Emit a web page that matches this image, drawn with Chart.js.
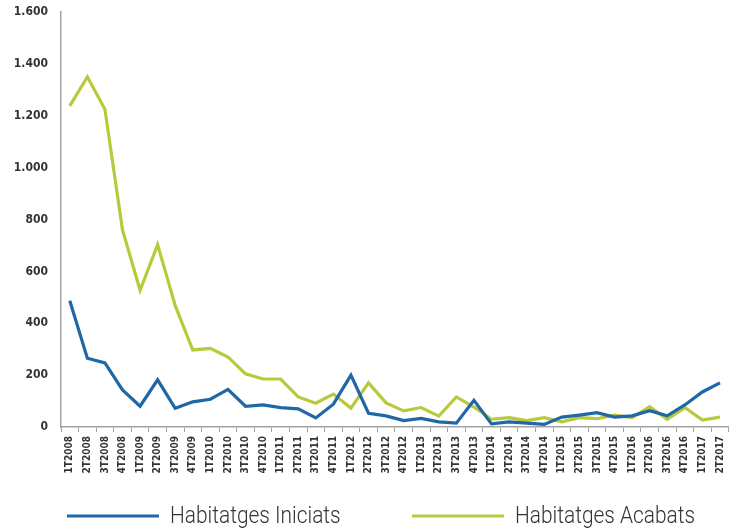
<!DOCTYPE html>
<html>
<head>
<meta charset="utf-8">
<title>Habitatges iniciats i acabats</title>
<script src="https://cdn.jsdelivr.net/npm/chart.js@4"></script>
<style>
  body { margin: 0; background: #fff; }
  canvas { display: block; }
</style>
</head>
<body>
<canvas id="chart" width="736" height="529"></canvas>
<script>
const quarters = [
  "1T2008", "2T2008", "3T2008", "4T2008",
  "1T2009", "2T2009", "3T2009", "4T2009",
  "1T2010", "2T2010", "3T2010", "4T2010",
  "1T2011", "2T2011", "3T2011", "4T2011",
  "1T2012", "2T2012", "3T2012", "4T2012",
  "1T2013", "2T2013", "3T2013", "4T2013",
  "1T2014", "2T2014", "3T2014", "4T2014",
  "1T2015", "2T2015", "3T2015", "4T2015",
  "1T2016", "2T2016", "3T2016", "4T2016",
  "1T2017", "2T2017"
];

const iniciats = [
  487, 265, 247, 143, 80, 182, 72, 97, 107, 145,
  80, 85, 75, 70, 35, 88,
  200, 53, 43, 25, 33, 20, 15, 103,
  12, 20, 15, 10, 38, 46, 55, 38, 43, 63, 43, 85, 135, 170
];

const acabats = [
  1238, 1350, 1225, 760, 527, 703, 468, 297, 303, 270,
  205, 185, 185, 116, 92, 127, 73, 170, 93, 62, 75, 42, 116, 77,
  30, 36, 25, 36, 20, 36, 32, 46, 36, 78, 30, 75, 27, 38
];

const yTicks = [0, 200, 400, 600, 800, 1000, 1200, 1400, 1600];

const BLUE = "#1f67a6";
const GREEN = "#b9c93c";
const AXIS = "#a3a3a3";
const TICK_FONT = "DejaVu Sans Condensed, DejaVu Sans";

// thousands with a dot, as in the original
function formatNumber(v) {
  return v.toString().replace(/\B(?=(\d{3})+(?!\d))/g, ".");
}

// legend drawn by hand so the long line samples sit where the original has them
// (the original text is tall and narrow, so it is squeezed a bit horizontally)
const bottomLegend = {
  id: "bottomLegend",
  afterDraw(chart) {
    const ctx = chart.ctx;
    const items = [
      { x: 67, text: chart.data.datasets[0].label, color: BLUE },
      { x: 412, text: chart.data.datasets[1].label, color: GREEN }
    ];
    const y = 516;
    ctx.save();
    ctx.font = "300 24px Roboto";
    ctx.textBaseline = "middle";
    items.forEach(item => {
      ctx.fillStyle = item.color;
      ctx.fillRect(item.x, y - 1.5, 92, 3);
      ctx.save();
      ctx.translate(item.x + 103, y + 1);
      ctx.scale(0.87, 1);
      ctx.fillStyle = "#333";
      ctx.fillText(item.text, 0, 0);
      ctx.restore();
    });
    ctx.restore();
  }
};

new Chart(document.getElementById("chart"), {
  type: "line",
  data: {
    labels: quarters,
    datasets: [
      {
        label: "Habitatges Iniciats",
        data: iniciats,
        borderColor: BLUE,
        backgroundColor: BLUE,
        borderWidth: 3.2,
        pointRadius: 0,
        tension: 0
      },
      {
        label: "Habitatges Acabats",
        data: acabats,
        borderColor: GREEN,
        backgroundColor: GREEN,
        borderWidth: 3.2,
        pointRadius: 0,
        tension: 0
      }
    ]
  },
  options: {
    responsive: false,
    animation: false,
    layout: {
      padding: { top: 12, right: 5, bottom: 0, left: 0 }
    },
    plugins: {
      legend: { display: false },
      tooltip: { enabled: false }
    },
    scales: {
      x: {
        offset: true,
        grid: {
          drawOnChartArea: false,
          offset: true,
          color: AXIS,
          tickLength: 5
        },
        border: { color: AXIS, width: 1.5 },
        ticks: {
          autoSkip: false,
          minRotation: 90,
          maxRotation: 90,
          padding: 4,
          color: "#333",
          font: { family: TICK_FONT, size: 10, weight: "bold" }
        },
        afterFit(scale) {
          scale.height = 102;
        }
      },
      y: {
        min: 0,
        max: 1600,
        afterBuildTicks(scale) {
          scale.ticks = yTicks.map(v => ({ value: v }));
        },
        grid: {
          drawOnChartArea: false,
          drawTicks: false
        },
        border: { color: AXIS, width: 1.5 },
        ticks: {
          padding: 13,
          color: "#333",
          font: { family: TICK_FONT, size: 12, weight: "bold" },
          callback: v => formatNumber(v)
        },
        afterFit(scale) {
          scale.width = 61;
          // keep the top of the plot where the original has it
          scale.paddingTop = 0;
          scale.paddingBottom = 0;
        }
      }
    }
  },
  plugins: [bottomLegend]
});
</script>
</body>
</html>
